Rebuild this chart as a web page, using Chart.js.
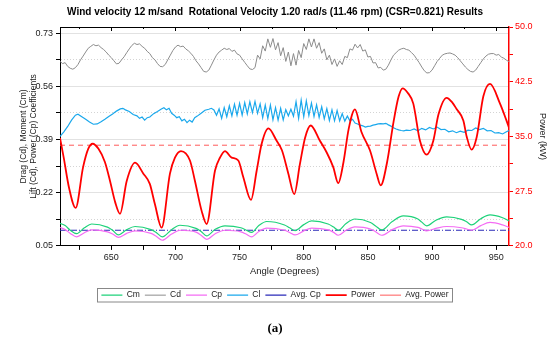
<!DOCTYPE html>
<html>
<head>
<meta charset="utf-8">
<script src="https://cdn.jsdelivr.net/npm/chart.js@4.4.1/dist/chart.umd.min.js"></script>
<style>
    html, body { margin: 0; padding: 0; background: #fff; }
</style>
</head>
<body>
<canvas id="chart" width="550" height="340"></canvas>
<script>
// Tick labels
const xTicks = [650, 700, 750, 800, 850, 900, 950];
const xMinorTicks = [625, 675, 725, 775, 825, 875, 925];
const coefTicks = [0.05, 0.22, 0.39, 0.56, 0.73];
const coefMinorTicks = [0.135, 0.305, 0.475, 0.645];
const powerTicks = [20.0, 27.5, 35.0, 42.5, 50.0];
const powerMinorTicks = [23.75, 31.25, 38.75, 46.25];

// Power (kW), right axis
const powerAngle = [610, 613, 617, 622.2, 628, 632, 635.5, 640, 645, 649, 653, 656.8, 662, 668.5, 675, 680, 684, 689.2,
    695.7, 699.6, 704.3, 711.3, 715.2, 720.4, 724.3, 730.8, 734.7, 738.6, 743.8, 749, 752.9, 758.9, 763.3, 767.2,
    772.4, 778.9, 783, 788, 792.6, 797, 801, 805.4, 812.6, 817.9, 823, 826.9, 831, 835, 839.9, 845, 851.6, 856.8,
    860, 865, 870, 874, 877.1, 881, 885.4, 890.6, 895.8, 901, 905, 911.4, 916, 919, 924.4, 927, 930.8, 934.8,
    940, 945.2, 953, 958, 960];
const powerKW = [34.8, 32.0, 28.0, 25.2, 30.8, 33.3, 34.0, 33.3, 31.5, 28.9, 26.0, 24.4, 28.9, 31.4, 29.9, 28.5, 25.7, 22.5,
    29.9, 32.1, 33.0, 31.7, 28.9, 24.8, 23.0, 30.3, 32.1, 33.0, 32.1, 31.7, 29.4, 26.3, 30.3, 34.0,
    36.1, 34.4, 33.1, 29.9, 27.1, 31.2, 34.8, 36.5, 34.4, 32.8, 30.8, 28.6, 31.5, 36.0, 38.7, 35.6, 33.1, 29.9,
    28.3, 31.5, 37.0, 40.5, 41.6, 41.0, 39.5, 34.4, 32.5, 34.4, 38.0, 40.3, 39.6, 38.8, 37.2, 35.0, 33.2, 34.9,
    40.5, 42.2, 39.5, 37.2, 36.2];
const avgPower = 33.8;

// Moment coefficient Cm
const cmAngle = [610, 614, 618, 623, 629, 634.7, 647, 651, 655.5, 662, 668.5, 681, 685, 689.7, 697, 703.5, 716, 720, 724.3,
    731, 738.6, 751, 755, 759.4, 765, 771.1, 785, 789, 793.2, 800, 806.2, 819, 823, 826.9, 833, 839.9, 852, 856,
    860.7, 869, 877.6, 889, 892, 895.8, 903, 911.4, 923, 927, 930.9, 938, 945.2, 955, 960];
const cmValue = [0.122, 0.115, 0.100, 0.089, 0.108, 0.120, 0.110, 0.100, 0.085, 0.102, 0.112, 0.102, 0.093, 0.079, 0.102, 0.116, 0.106, 0.096, 0.082,
    0.103, 0.114, 0.108, 0.101, 0.093, 0.115, 0.128, 0.117, 0.108, 0.099, 0.118, 0.130, 0.120, 0.111, 0.100, 0.122, 0.136, 0.125, 0.114,
    0.101, 0.128, 0.146, 0.136, 0.126, 0.114, 0.132, 0.143, 0.135, 0.127, 0.117, 0.137, 0.149, 0.140, 0.130];

// Power coefficient Cp (same angles as Cm)
const cpValue = [0.109, 0.102, 0.090, 0.079, 0.092, 0.101, 0.095, 0.088, 0.077, 0.090, 0.098, 0.090, 0.081, 0.068, 0.088, 0.100, 0.094, 0.084, 0.071,
    0.089, 0.100, 0.095, 0.088, 0.079, 0.096, 0.107, 0.100, 0.093, 0.085, 0.098, 0.107, 0.101, 0.094, 0.084, 0.100, 0.111, 0.104, 0.095,
    0.084, 0.102, 0.114, 0.109, 0.104, 0.098, 0.106, 0.112, 0.108, 0.104, 0.100, 0.115, 0.125, 0.117, 0.109];
const avgCp = 0.100;

// Drag coefficient Cd
const cdAngle = [610, 612, 614, 616, 618, 620, 622, 624, 626, 628,
    630, 632, 634, 636, 638, 640, 642, 644, 646, 648,
    650, 652, 654, 656, 658, 660, 662, 664, 666, 668,
    670, 672, 674, 676, 678, 680, 682, 684, 686, 688,
    690, 692, 694, 696, 698, 700, 702, 704, 706, 708,
    710, 712, 714, 716, 718, 720, 722, 724, 726, 728,
    730, 732, 734, 736, 738, 740, 742, 744, 746, 748,
    750, 752, 754, 756, 758, 760, 762, 764, 766, 768,
    770, 772, 774, 776, 778, 780, 782, 784, 786, 788,
    790, 792, 794, 796, 798, 800, 802, 804, 806, 808,
    810, 812, 814, 816, 818, 820, 822, 824, 826, 828,
    830, 832, 834, 836, 838, 840, 842, 844, 846, 848,
    850, 852, 854, 856, 858, 860, 862, 864, 866, 868,
    870, 872, 874, 876, 878, 880, 882, 884, 886, 888,
    890, 892, 894, 896, 898, 900, 902, 904, 906, 908,
    910, 912, 914, 916, 918, 920, 922, 924, 926, 928,
    930, 932, 934, 936, 938, 940, 942, 944, 946, 948,
    950, 952, 954, 956, 958, 960];
const cdValue = [0.640, 0.633, 0.636, 0.624, 0.618, 0.615, 0.620, 0.630, 0.645, 0.657,
    0.670, 0.682, 0.688, 0.694, 0.690, 0.692, 0.684, 0.678, 0.670, 0.660,
    0.652, 0.642, 0.632, 0.634, 0.645, 0.655, 0.668, 0.680, 0.691, 0.698,
    0.694, 0.696, 0.688, 0.682, 0.672, 0.665, 0.652, 0.645, 0.633, 0.624,
    0.623, 0.630, 0.645, 0.660, 0.675, 0.686, 0.692, 0.687, 0.689, 0.680,
    0.674, 0.666, 0.656, 0.642, 0.632, 0.620, 0.608, 0.606, 0.612, 0.628,
    0.645, 0.660, 0.670, 0.676, 0.682, 0.678, 0.681, 0.672, 0.676, 0.664,
    0.660, 0.648, 0.637, 0.626, 0.616, 0.614, 0.620, 0.660, 0.648, 0.690,
    0.673, 0.712, 0.685, 0.713, 0.677, 0.700, 0.658, 0.684, 0.640, 0.670,
    0.626, 0.665, 0.628, 0.675, 0.652, 0.697, 0.678, 0.712, 0.686, 0.712,
    0.682, 0.700, 0.666, 0.680, 0.645, 0.660, 0.630, 0.648, 0.624, 0.642,
    0.630, 0.656, 0.652, 0.680, 0.676, 0.695, 0.683, 0.694, 0.673, 0.677,
    0.654, 0.656, 0.635, 0.636, 0.619, 0.621, 0.612, 0.615, 0.628, 0.645,
    0.660, 0.668, 0.676, 0.680, 0.682, 0.678, 0.676, 0.668, 0.660, 0.648,
    0.636, 0.622, 0.610, 0.603, 0.604, 0.612, 0.626, 0.640, 0.650, 0.660,
    0.664, 0.666, 0.667, 0.664, 0.660, 0.652, 0.642, 0.632, 0.622, 0.614,
    0.608, 0.606, 0.612, 0.624, 0.636, 0.648, 0.657, 0.663, 0.665, 0.665,
    0.660, 0.662, 0.654, 0.650, 0.644, 0.639];

// Lift coefficient Cl
const clAngle = [610, 613, 616, 619, 622, 624, 627, 630, 633, 636,
    639, 642, 645, 648, 651, 654, 657, 659, 661, 664,
    667, 670, 672, 674, 676, 678, 680, 683, 686, 689,
    691, 693, 695, 697, 699, 701, 703, 705, 707, 709,
    711, 713, 715, 717, 720, 723, 726, 728, 730,
    732, 734, 736, 738, 740, 742, 744, 746, 748, 750,
    752, 754, 756, 758, 760, 762, 764, 766, 768, 770,
    772, 774, 776, 778, 780, 782, 784, 786, 788, 790,
    792, 794, 796, 798, 800, 802, 804, 806, 808, 810,
    812, 814, 816, 818, 820, 822, 824, 826, 828, 830,
    832, 834, 836, 838,
    840, 842, 844, 846, 848, 850, 852, 854, 856, 858,
    860, 862, 864, 866, 868, 870, 872, 874, 876, 878, 880,
    883, 886, 889, 892, 895, 898, 901, 904, 907, 910,
    913, 916, 919, 922, 925, 928, 931, 934, 937, 940,
    943, 946, 949, 952, 955, 958, 960];
const clValue = [0.400, 0.415, 0.432, 0.452, 0.468, 0.471, 0.463, 0.455, 0.446, 0.439,
    0.440, 0.447, 0.455, 0.464, 0.472, 0.481, 0.488, 0.490, 0.485, 0.480,
    0.470, 0.466, 0.458, 0.462, 0.452, 0.460, 0.462, 0.473, 0.480, 0.488,
    0.492, 0.485, 0.490, 0.474, 0.468, 0.460, 0.463, 0.450, 0.455, 0.444,
    0.452, 0.446, 0.460, 0.465, 0.474, 0.484, 0.487, 0.490, 0.485,
    0.468, 0.488, 0.458, 0.492, 0.463, 0.498, 0.466, 0.503, 0.468, 0.506,
    0.468, 0.508, 0.472, 0.511, 0.476, 0.512, 0.474, 0.504, 0.460, 0.500,
    0.457, 0.500, 0.453, 0.492, 0.452, 0.490, 0.453, 0.486, 0.466, 0.487,
    0.465, 0.511, 0.458, 0.516, 0.463, 0.514, 0.467, 0.507, 0.464, 0.501,
    0.461, 0.495, 0.456, 0.489, 0.451, 0.485, 0.450, 0.483, 0.450, 0.473,
    0.449, 0.465, 0.450, 0.455,
    0.443, 0.440, 0.436, 0.434, 0.430, 0.432, 0.433, 0.436, 0.438, 0.440,
    0.441, 0.440, 0.442, 0.437, 0.433, 0.428, 0.424, 0.421, 0.419, 0.418, 0.420,
    0.419, 0.424, 0.418, 0.426, 0.421, 0.429, 0.424, 0.430, 0.422, 0.423,
    0.415, 0.418, 0.412, 0.417, 0.413, 0.420, 0.419, 0.427, 0.422, 0.426,
    0.418, 0.419, 0.411, 0.412, 0.408, 0.415, 0.419];

const xMin = 610, xMax = 960;
const fontFamily = "'Liberation Sans', Arial, sans-serif";

const pts = (xs, ys) => xs.map((x, i) => ({ x: x, y: ys[i] }));
const flat = (v) => [{ x: xMin, y: v }, { x: xMax, y: v }];

// Frame top edge with inward ticks, and a box round the legend
const extras = {
    id: 'extras',
    afterDraw(chart) {
        const { ctx, chartArea: area, scales } = chart;
        ctx.save();
        ctx.strokeStyle = '#000';
        ctx.lineWidth = 1;
        ctx.beginPath();
        ctx.moveTo(area.left, Math.round(area.top) + 0.5);
        ctx.lineTo(area.right, Math.round(area.top) + 0.5);
        xTicks.concat(xMinorTicks).forEach(v => {
            const px = Math.round(scales.x.getPixelForValue(v)) + 0.5;
            ctx.moveTo(px, area.top);
            ctx.lineTo(px, area.top + (xTicks.includes(v) ? 4 : 2));
        });
        ctx.stroke();

        const boxes = chart.legend.legendHitBoxes;
        if (boxes && boxes.length) {
            const first = boxes[0];
            const last = boxes[boxes.length - 1];
            const l = Math.round(first.left) - 3.5;
            const r = Math.round(last.left + last.width) + 3.5;
            const t = Math.round(first.top) - 2.5;
            ctx.strokeStyle = '#888';
            ctx.strokeRect(l, t, r - l, first.height + 5);
        }
        ctx.restore();
    }
};

const ctx = document.getElementById('chart').getContext('2d');
new Chart(ctx, {
    type: 'line',
    data: {
        datasets: [
            { label: 'Cm', data: pts(cmAngle, cmValue), borderColor: '#1ed27a', borderWidth: 1.2, cubicInterpolationMode: 'monotone', yAxisID: 'y' },
            { label: 'Cd', data: pts(cdAngle, cdValue), borderColor: '#8c8c8c', borderWidth: 1, tension: 0, yAxisID: 'y' },
            { label: 'Cp', data: pts(cmAngle, cpValue), borderColor: '#f46cf4', borderWidth: 1.2, cubicInterpolationMode: 'monotone', yAxisID: 'y' },
            { label: 'Cl', data: pts(clAngle, clValue), borderColor: '#1aa8ec', borderWidth: 1.2, tension: 0, yAxisID: 'y' },
            { label: 'Avg. Cp', data: flat(avgCp), borderColor: '#2a2ab8', borderWidth: 1.2, borderDash: [6, 2, 1, 2], yAxisID: 'y' },
            { label: 'Power', data: pts(powerAngle, powerKW), borderColor: '#ff0000', borderWidth: 1.8, cubicInterpolationMode: 'monotone', yAxisID: 'y2', order: -1 },
            { label: 'Avg. Power', data: flat(avgPower), borderColor: '#ff5a5a', borderWidth: 1, borderDash: [5, 4], yAxisID: 'y2' }
        ]
    },
    options: {
        responsive: false,
        animation: false,
        parsing: false,
        elements: { point: { radius: 0 }, line: { fill: false } },
        layout: { padding: { top: 0, left: 0, right: 0, bottom: 0 } },
        plugins: {
            title: {
                display: true,
                text: 'Wind velocity 12 m/sand  Rotational Velocity 1.20 rad/s (11.46 rpm) (CSR=0.821) Results',
                color: '#000',
                font: { family: fontFamily, size: 10, weight: 'bold' },
                padding: { top: 6, bottom: 9 }
            },
            subtitle: {
                display: true,
                position: 'bottom',
                text: '(a)',
                color: '#000',
                font: { family: "'Liberation Serif', 'Times New Roman', serif", size: 13, weight: 'bold' },
                padding: { top: 11, bottom: 4 }
            },
            legend: {
                position: 'bottom',
                labels: {
                    usePointStyle: true,
                    pointStyle: 'line',
                    pointStyleWidth: 21,
                    boxHeight: 9,
                    padding: 5,
                    color: '#222',
                    font: { family: fontFamily, size: 8.5 },
                    sort: (a, b) => a.datasetIndex - b.datasetIndex
                }
            },
            tooltip: { enabled: false }
        },
        scales: {
            x: {
                type: 'linear',
                min: xMin,
                max: xMax,
                afterBuildTicks: s => { s.ticks = xTicks.concat(xMinorTicks).sort((a, b) => a - b).map(v => ({ value: v })); },
                afterFit: s => { s.height = 40; },
                ticks: {
                    autoSkip: false,
                    maxRotation: 0,
                    padding: 2,
                    color: '#222',
                    font: { family: fontFamily, size: 9 },
                    callback: v => xTicks.includes(v) ? String(v) : ''
                },
                grid: { drawOnChartArea: false, tickLength: 4, tickColor: '#000' },
                border: { color: '#000', width: 1 },
                title: {
                    display: true,
                    text: 'Angle (Degrees)',
                    color: '#222',
                    font: { family: fontFamily, size: 9.5 },
                    padding: { top: 0, bottom: 9 }
                }
            },
            y: {
                type: 'linear',
                position: 'left',
                min: 0.05,
                max: 0.75,
                afterBuildTicks: s => { s.ticks = coefTicks.concat(coefMinorTicks).sort((a, b) => a - b).map(v => ({ value: v })); },
                afterFit: s => { s.width = 60; },
                ticks: {
                    autoSkip: false,
                    padding: 3,
                    color: '#222',
                    font: { family: fontFamily, size: 9 },
                    callback: v => coefTicks.includes(v) ? v.toFixed(2) : ''
                },
                grid: {
                    tickLength: 4,
                    tickColor: '#000',
                    color: c => (c.tick && coefMinorTicks.includes(c.tick.value)) ? '#d4d4d4' : '#e2e2e2'
                },
                border: {
                    color: '#000',
                    width: 1,
                    dash: c => (c.tick && coefMinorTicks.includes(c.tick.value)) ? [1, 2] : []
                },
                title: {
                    display: true,
                    text: ['Drag (Cd), Moment (Cm)', 'Lift (Cd), Power (Cp) Coefficients'],
                    color: '#222',
                    font: { family: fontFamily, size: 8.5, lineHeight: 1.25 },
                    padding: { top: 18, bottom: 0 }
                }
            },
            y2: {
                type: 'linear',
                position: 'right',
                min: 20,
                max: 50,
                afterBuildTicks: s => { s.ticks = powerTicks.concat(powerMinorTicks).sort((a, b) => a - b).map(v => ({ value: v })); },
                afterFit: s => { s.width = 41; },
                ticks: {
                    autoSkip: false,
                    padding: 2,
                    color: '#ff0000',
                    font: { family: fontFamily, size: 9 },
                    callback: v => powerTicks.includes(v) ? v.toFixed(1) : ''
                },
                grid: { drawOnChartArea: false, tickLength: 4, tickColor: '#ff0000' },
                border: { color: '#ff0000', width: 1.5 },
                title: {
                    display: true,
                    text: 'Power (kW)',
                    color: '#222',
                    font: { family: fontFamily, size: 9 },
                    padding: { top: 2, bottom: 0 }
                }
            }
        }
    },
    plugins: [extras]
});
</script>
</body>
</html>
